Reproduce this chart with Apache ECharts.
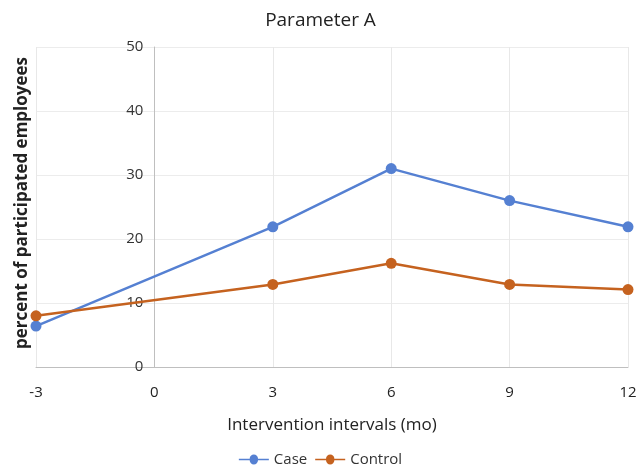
<!DOCTYPE html>
<html><head><meta charset="utf-8">
<script src="https://cdn.jsdelivr.net/npm/echarts@6/dist/echarts.min.js"></script>
<style>html,body{margin:0;padding:0;background:#fff}#c{width:641px;height:469px}</style>
</head><body><div id="c"></div>
<script>
var months = [-3, 3, 6, 9, 12];
var caseValues = [6.4, 21.9, 31.0, 26.0, 21.9];
var controlValues = [8.0, 12.9, 16.2, 12.9, 12.1];
var seriesNames = ['Case', 'Control'];
var FONT = '"Open Sans", "Noto Sans", sans-serif';
function pairs(xs, ys){ return xs.map(function(x,i){ return [x, ys[i]]; }); }
var chart = echarts.init(document.getElementById('c'));
chart.setOption({
  animation: false,
  title: { text: 'Parameter A', left: 'center', top: 6,
    textStyle: { fontFamily: FONT, fontSize: 19, fontWeight: 'normal', color: '#222' } },
  grid: { left: 36, right: 13, top: 47, bottom: 102 },
  legend: { bottom: -3, left: 'center', itemWidth: 36, itemHeight: 10, itemGap: 8,
    icon: 'path://M0,4 L13,4 A5,5 0 1,1 23,4 L36,4 L36,6 L23,6 A5,5 0 1,1 13,6 L0,6 Z',
    textStyle: { fontFamily: FONT, fontSize: 15, color: '#333', padding: [0, 0, 0, -3] }, data: seriesNames },
  xAxis: { type: 'value', min: -3, max: 12, interval: 3,
    name: 'Intervention intervals (mo)', nameLocation: 'middle', nameGap: 50,
    nameTextStyle: { fontFamily: FONT, fontSize: 17, color: '#222' },
    axisLine: { onZero: true, lineStyle: { color: '#bfbfbf' } },
    axisTick: { show: false },
    axisLabel: { fontFamily: FONT, fontSize: 15, color: '#222', margin: 18 },
    splitLine: { show: true, lineStyle: { color: '#e8e8e8' } } },
  yAxis: { type: 'value', min: 0, max: 50, interval: 10, position: 'left', offset: -118.4,
    axisLine: { show: true, onZero: false, lineStyle: { color: '#bfbfbf' } },
    axisTick: { show: false },
    axisLabel: { fontFamily: FONT, fontSize: 15, color: '#333', margin: 11 },
    splitLine: { show: true, lineStyle: { color: '#ececec' } } },
  graphic: [{ type: 'text', rotation: Math.PI/2,
    x: 22, y: 203, style: { text: 'percent of participated employees', fontFamily: FONT,
      fontSize: 17, fontWeight: 'bold', fill: '#222', align: 'center', verticalAlign: 'middle' } }],
  series: [
    { name: seriesNames[0], type: 'line', data: pairs(months, caseValues), symbol: 'circle', symbolSize: 11,
      lineStyle: { width: 2.5, color: '#5580d2' }, itemStyle: { color: '#5580d2' } },
    { name: seriesNames[1], type: 'line', data: pairs(months, controlValues), symbol: 'circle', symbolSize: 11,
      lineStyle: { width: 2.5, color: '#c5621f' }, itemStyle: { color: '#c5621f' } }
  ]
});
</script></body></html>
